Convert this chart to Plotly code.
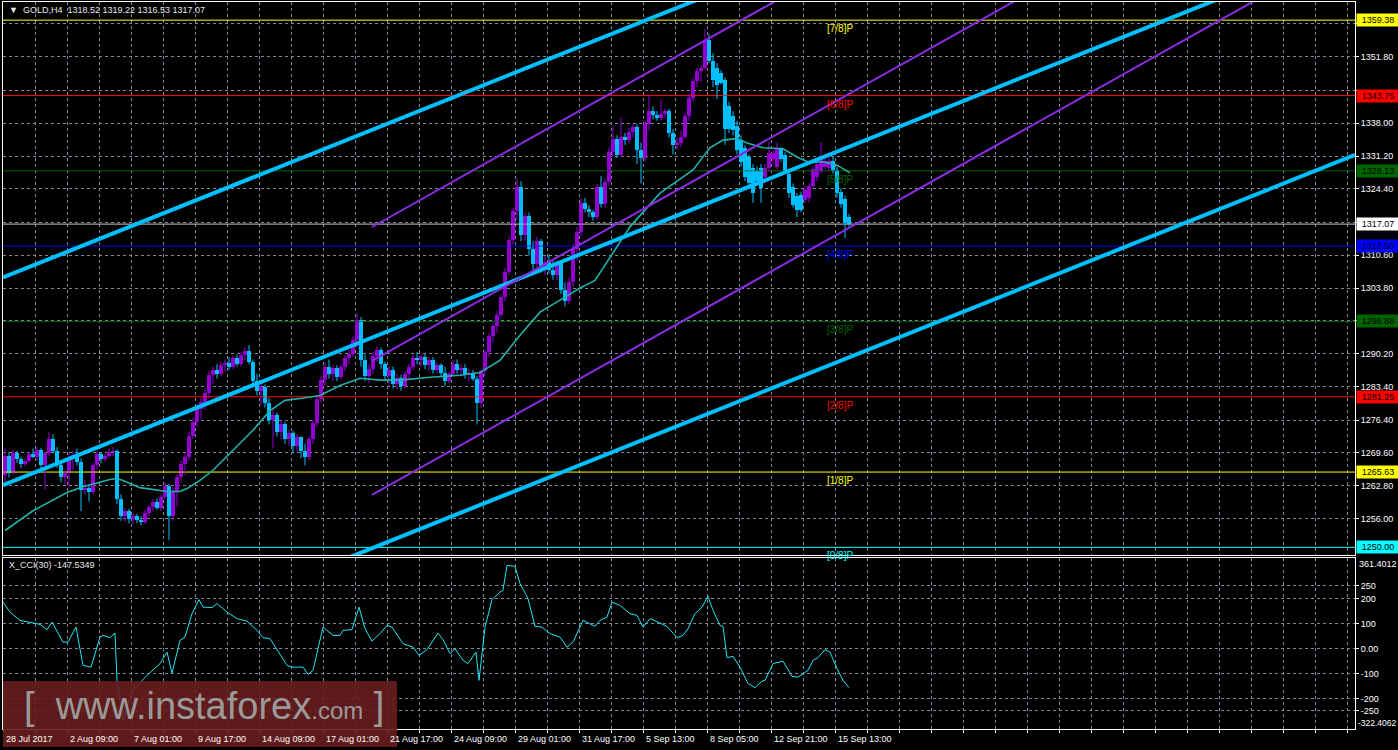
import plotly.graph_objects as go

# ---------------- DATA ----------------
opens = [1265.0, 1269.0, 1265.5, 1269.5, 1268.3, 1267.2, 1268.0, 1269.3, 1268.8, 1270.2,
         1267.0, 1269.5, 1272.5, 1270.0, 1267.0, 1264.5, 1265.5, 1268.8, 1269.2, 1267.8,
         1262.0, 1262.3, 1261.5, 1267.0, 1269.3, 1268.3, 1269.0, 1269.8, 1270.0, 1260.0,
         1256.5, 1257.5, 1255.8, 1256.5, 1255.6, 1255.2, 1257.2, 1258.3, 1259.5, 1258.2,
         1260.5, 1262.8, 1256.5, 1261.8, 1264.5, 1267.2, 1268.8, 1273.2, 1276.0, 1278.8,
         1280.2, 1282.0, 1285.8, 1286.8, 1286.0, 1287.8, 1288.2, 1287.5, 1289.2, 1288.0,
         1290.0, 1290.8, 1288.5, 1284.5, 1282.5, 1283.2, 1280.0, 1276.5, 1277.5, 1274.0,
         1275.5, 1272.5, 1273.8, 1271.0, 1272.8, 1270.0, 1268.8, 1272.5, 1275.8, 1280.8,
         1284.8, 1287.5, 1286.0, 1287.2, 1285.3, 1287.5, 1289.3, 1290.2, 1293.0, 1297.2,
         1288.8, 1285.5, 1287.0, 1289.8, 1291.0, 1288.0, 1285.5, 1286.8, 1284.0, 1285.2,
         1283.5, 1286.0, 1287.5, 1289.2, 1288.8, 1289.5, 1287.8, 1288.8, 1286.8, 1287.8,
         1286.2, 1284.5, 1286.0, 1288.0, 1286.8, 1287.2, 1285.8, 1286.2, 1285.0, 1280.0,
         1286.5, 1290.5, 1293.8, 1296.0, 1298.2, 1302.0, 1307.2, 1313.8, 1319.8, 1324.8,
         1314.8, 1318.8, 1312.0, 1308.8, 1313.5, 1308.2, 1309.2, 1307.5, 1306.5, 1309.0,
         1303.5, 1301.2, 1305.0, 1312.0, 1315.5, 1321.5, 1320.2, 1319.5, 1318.5, 1324.8,
         1321.2, 1325.8, 1332.0, 1334.8, 1331.5, 1335.2, 1334.5, 1336.2, 1337.2, 1332.5,
         1330.8, 1337.8, 1340.5, 1339.8, 1339.0, 1340.0, 1340.5, 1336.0, 1333.5, 1334.0,
         1335.2, 1339.5, 1343.2, 1346.8, 1348.8, 1349.5, 1355.2, 1351.0, 1349.5, 1348.5,
         1347.0, 1341.5, 1339.5, 1337.5, 1334.5, 1332.8, 1331.0, 1328.8, 1328.0, 1328.8,
         1326.8, 1328.8, 1330.5, 1329.0, 1332.6, 1331.5, 1327.5, 1324.8, 1322.8, 1323.2,
         1322.1, 1322.5, 1325.0, 1326.8, 1328.0, 1329.0, 1328.8, 1330.2, 1328.2, 1323.8,
         1322.3, 1318.52]
highs = [1270.5, 1269.8, 1270.2, 1270.0, 1268.8, 1268.5, 1269.8, 1270.5, 1270.8, 1270.6,
         1269.8, 1274.0, 1273.5, 1270.8, 1268.0, 1266.0, 1269.5, 1270.0, 1270.5, 1268.5,
         1264.0, 1263.0, 1267.5, 1270.0, 1269.8, 1269.5, 1270.5, 1270.8, 1270.4, 1261.0,
         1258.2, 1258.0, 1257.0, 1257.0, 1256.5, 1257.8, 1258.8, 1260.0, 1260.2, 1261.0,
         1263.5, 1263.2, 1262.5, 1265.2, 1268.0, 1269.5, 1274.0, 1277.0, 1279.8, 1281.0,
         1283.0, 1286.5, 1287.5, 1288.0, 1288.5, 1289.0, 1289.5, 1289.8, 1290.0, 1290.5,
         1291.5, 1292.0, 1289.0, 1286.0, 1284.0, 1283.8, 1281.0, 1278.8, 1278.0, 1276.5,
         1276.0, 1274.5, 1274.2, 1273.5, 1273.0, 1271.5, 1273.0, 1276.5, 1281.5, 1285.5,
         1288.5, 1289.0, 1287.8, 1287.8, 1288.0, 1290.0, 1291.0, 1293.8, 1298.5, 1297.8,
         1290.0, 1288.0, 1290.5, 1291.8, 1291.5, 1288.5, 1287.5, 1287.5, 1286.0, 1285.8,
         1286.5, 1288.0, 1290.0, 1290.5, 1290.0, 1290.2, 1289.5, 1289.5, 1288.5, 1288.2,
         1287.5, 1286.5, 1288.8, 1289.0, 1288.0, 1288.0, 1287.0, 1286.8, 1285.5, 1287.0,
         1291.0, 1294.5, 1296.5, 1299.0, 1302.5, 1308.0, 1314.5, 1320.5, 1326.5, 1326.0,
         1319.5, 1319.5, 1313.5, 1314.5, 1314.0, 1310.5, 1310.8, 1309.5, 1309.5, 1309.5,
         1305.0, 1306.0, 1313.0, 1316.5, 1322.5, 1322.5, 1321.0, 1320.0, 1325.5, 1327.0,
         1326.5, 1333.0, 1337.5, 1335.5, 1339.2, 1336.0, 1337.0, 1337.8, 1337.8, 1334.0,
         1338.5, 1344.0, 1341.5, 1340.5, 1343.0, 1341.0, 1341.0, 1336.8, 1335.0, 1336.5,
         1340.0, 1344.0, 1347.5, 1349.5, 1350.0, 1357.5, 1356.5, 1352.5, 1350.5, 1349.0,
         1347.5, 1342.5, 1340.5, 1338.5, 1335.5, 1333.5, 1331.5, 1329.5, 1329.0, 1329.5,
         1329.5, 1334.2, 1332.5, 1334.0, 1333.0, 1332.0, 1328.0, 1325.5, 1323.5, 1323.8,
         1325.0, 1325.5, 1329.0, 1330.5, 1334.0, 1331.0, 1331.0, 1331.0, 1329.0, 1324.5,
         1323.0, 1319.22]
lows = [1263.5, 1264.5, 1265.0, 1267.5, 1266.5, 1266.8, 1267.5, 1268.5, 1268.0, 1265.8,
        1262.0, 1269.0, 1269.5, 1266.5, 1263.5, 1263.0, 1262.5, 1266.0, 1267.0, 1257.5,
        1261.0, 1259.5, 1261.0, 1266.0, 1267.5, 1267.8, 1268.5, 1269.0, 1259.0, 1255.5,
        1255.2, 1255.0, 1254.8, 1255.0, 1254.6, 1254.8, 1256.5, 1257.5, 1257.8, 1257.5,
        1260.0, 1251.5, 1255.5, 1258.5, 1263.5, 1265.0, 1268.0, 1272.5, 1275.0, 1276.5,
        1278.5, 1281.0, 1284.0, 1285.0, 1285.5, 1286.5, 1286.8, 1287.0, 1287.5, 1287.5,
        1288.8, 1288.0, 1283.5, 1281.5, 1279.5, 1279.0, 1275.5, 1270.5, 1273.0, 1272.5,
        1271.5, 1271.0, 1269.5, 1270.0, 1268.5, 1267.0, 1268.0, 1271.5, 1275.0, 1280.0,
        1283.5, 1285.0, 1284.5, 1284.5, 1284.8, 1286.5, 1288.0, 1289.5, 1291.5, 1287.5,
        1284.5, 1284.0, 1286.0, 1288.5, 1287.0, 1284.5, 1283.5, 1283.0, 1282.8, 1282.5,
        1283.0, 1285.0, 1286.8, 1288.0, 1287.5, 1287.0, 1286.5, 1286.0, 1286.0, 1285.5,
        1283.5, 1284.0, 1285.5, 1286.0, 1285.5, 1285.0, 1284.5, 1284.5, 1275.5, 1279.0,
        1285.5, 1289.5, 1292.5, 1294.5, 1297.5, 1301.0, 1306.5, 1312.8, 1318.0, 1313.5,
        1313.5, 1310.5, 1307.5, 1308.0, 1307.0, 1306.5, 1306.8, 1305.5, 1305.5, 1302.5,
        1300.0, 1300.5, 1304.0, 1309.5, 1314.5, 1319.5, 1318.5, 1317.8, 1318.0, 1320.5,
        1320.5, 1325.0, 1331.0, 1330.8, 1331.0, 1333.5, 1333.8, 1335.0, 1329.5, 1325.5,
        1330.0, 1336.5, 1338.8, 1338.5, 1338.5, 1339.0, 1335.0, 1331.5, 1332.5, 1333.0,
        1334.8, 1338.5, 1342.5, 1345.5, 1346.5, 1349.0, 1350.5, 1345.5, 1343.0, 1346.0,
        1333.5, 1336.0, 1335.5, 1331.5, 1329.0, 1326.0, 1324.5, 1321.5, 1325.5, 1321.5,
        1325.5, 1328.0, 1329.5, 1328.5, 1330.0, 1327.5, 1322.5, 1320.5, 1318.5, 1319.5,
        1321.5, 1321.5, 1324.5, 1326.0, 1327.5, 1328.5, 1328.0, 1327.5, 1322.5, 1320.5,
        1314.2, 1316.53]
closes = [1269.0, 1265.5, 1269.5, 1268.3, 1267.2, 1268.0, 1269.3, 1268.8, 1270.2, 1267.0,
          1269.5, 1272.5, 1270.0, 1267.0, 1264.5, 1265.5, 1268.8, 1269.2, 1267.8, 1262.0,
          1262.3, 1261.5, 1267.0, 1269.3, 1268.3, 1269.0, 1269.8, 1270.0, 1260.0, 1256.5,
          1257.5, 1255.8, 1256.5, 1255.6, 1255.2, 1257.2, 1258.3, 1259.5, 1258.2, 1260.5,
          1262.8, 1256.5, 1261.8, 1264.5, 1267.2, 1268.8, 1273.2, 1276.0, 1278.8, 1280.2,
          1282.0, 1285.8, 1286.8, 1286.0, 1287.8, 1288.2, 1287.5, 1289.2, 1288.0, 1290.0,
          1290.8, 1288.5, 1284.5, 1282.5, 1283.2, 1280.0, 1276.5, 1277.5, 1274.0, 1275.5,
          1272.5, 1273.8, 1271.0, 1272.8, 1270.0, 1268.8, 1272.5, 1275.8, 1280.8, 1284.8,
          1287.5, 1286.0, 1287.2, 1285.3, 1287.5, 1289.3, 1290.2, 1293.0, 1297.2, 1288.8,
          1285.5, 1287.0, 1289.8, 1291.0, 1288.0, 1285.5, 1286.8, 1284.0, 1285.2, 1283.5,
          1286.0, 1287.5, 1289.2, 1288.8, 1289.5, 1287.8, 1288.8, 1286.8, 1287.8, 1286.2,
          1284.5, 1286.0, 1288.0, 1286.8, 1287.2, 1285.8, 1286.2, 1285.0, 1280.0, 1286.5,
          1290.5, 1293.8, 1296.0, 1298.2, 1302.0, 1307.2, 1313.8, 1319.8, 1324.8, 1314.8,
          1318.8, 1312.0, 1308.8, 1313.5, 1308.2, 1309.2, 1307.5, 1306.5, 1309.0, 1303.5,
          1301.2, 1305.0, 1312.0, 1315.5, 1321.5, 1320.2, 1319.5, 1318.5, 1324.8, 1321.2,
          1325.8, 1332.0, 1334.8, 1331.5, 1335.2, 1334.5, 1336.2, 1337.2, 1332.5, 1330.8,
          1337.8, 1340.5, 1339.8, 1339.0, 1340.0, 1340.5, 1336.0, 1333.5, 1334.0, 1335.2,
          1339.5, 1343.2, 1346.8, 1348.8, 1349.5, 1355.2, 1351.0, 1347.0, 1346.0, 1346.3,
          1336.8, 1336.8, 1336.5, 1332.5, 1330.0, 1326.8, 1325.5, 1323.5, 1326.0, 1324.5,
          1328.8, 1331.8, 1331.8, 1332.6, 1330.5, 1328.0, 1323.5, 1321.0, 1320.0, 1320.0,
          1324.1, 1325.0, 1328.5, 1329.5, 1330.5, 1330.2, 1330.2, 1328.2, 1323.5, 1321.2,
          1317.3, 1317.07]

# moving average (read at vertices, bar index / price)
ma_idx = [0, 7, 15.5, 19.5, 26.25, 28, 29.5, 33.75, 40.5, 43.75, 45.5, 48.75, 52, 57, 62,
          66.25, 70, 73.75, 78.75, 83.75, 88.75, 93.75, 98.75, 106.25, 113.75, 118.75,
          123.75, 128.75, 133.75, 138.75, 143.75, 147.5, 156.25, 163.75, 172, 176.25,
          179.5, 183, 185.5, 189.5, 194.5, 198, 201.25, 204.5, 208, 211.25]
ma_val = [1253.5, 1257.6, 1261.4, 1262.6, 1264.1, 1264.3, 1263.9, 1262.4, 1261.6, 1261.6,
          1262.2, 1263.9, 1266.0, 1270.1, 1274.3, 1278.4, 1280.5, 1280.9, 1281.5, 1283.6,
          1285.1, 1284.7, 1284.7, 1285.3, 1285.7, 1286.3, 1288.8, 1294.0, 1298.8, 1301.3,
          1303.8, 1305.4, 1316.5, 1323.5, 1328.3, 1332.9, 1334.5, 1334.8, 1333.9, 1332.9,
          1332.7, 1331.0, 1329.8, 1330.0, 1329.3, 1327.7]

# CCI(30) vertices (bar index / value)
cci_idx = [-0.5, 1.25, 3.75, 6.25, 8.75, 10.5, 11.75, 14.5, 15.75, 17.75, 19.5, 21.5, 23.75,
           24.5, 26.25, 27.5, 28, 28.75, 29.5, 30.5, 32, 35.5, 37, 38.75, 40.5, 41.75, 43.75,
           45, 46.75, 48.5, 49.5, 51.75, 53, 55.5, 58, 60.5, 63, 64.5, 66.25, 68.75, 70.5,
           72, 74.5, 75.75, 77, 79.5, 82, 83.75, 84.5, 86.75, 88.5, 90, 91.75, 93.75, 95.5,
           96.75, 99.5, 102, 103.5, 105.5, 107, 108.25, 109.5, 111.25, 112.5, 114.5, 115.75,
           117.75, 118.5, 119.25, 120, 121.75, 123.75, 124.5, 125.5, 127.5, 128.75, 130.75,
           132.5, 134.25, 136.25, 138.75, 140.5, 142, 144.5, 147.5, 148.75, 150.5, 151.75,
           153.75, 156.25, 158, 159.5, 161.25, 163.25, 165.5, 168, 169.5, 170.75, 172.5,
           174.25, 175.75, 177, 178.75, 179.5, 180.5, 182, 183.75, 185.75, 187.5, 189.25,
           190, 192, 193.25, 194.5, 196.75, 198.25, 200.75, 202, 203.25, 205, 206.25, 208,
           209.5, 211]
cci_val = [185, 145, 112, 105, 96, 75, 105, 25, 25, 85, -68, -75, 45, 52, 43, 61, -128, -208,
           -291, -235, -168, -108, -88, -61, -15, -99, 32, 45, 139, 195, 165, 163, 179, 145,
           119, 109, 72, 43, 39, -24, -68, -75, -75, -104, -88, 85, 52, 52, 72, 75, 165, 79,
           29, 59, 92, 85, 19, 5, -28, -5, 29, 61, 35, -21, -1, -48, -61, -15, -128, -21, 85,
           195, 225, 232, 332, 328, 259, 199, 88, 85, 59, 45, 5, 25, 112, 88, 112, 125, 185,
           172, 139, 132, 85, 119, 103, 88, 43, 52, 79, 139, 165, 208, 152, 92, 88, -37, -32,
           -75, -141, -157, -131, -128, -61, -55, -51, -112, -115, -88, -48, -37, -5, -15,
           -81, -128, -157, -147.5349]

# Murrey math levels
murrey_levels = [1250.00, 1265.63, 1281.25, 1296.88, 1312.50, 1328.13, 1343.75, 1359.38]
murrey_names = ['[0/8]P', '[1/8]P', '[2/8]P', '[3/8]P', '[4/8]P', '[5/8]P', '[6/8]P', '[7/8]P']
murrey_colors = ['#00FFFF', '#FFFF00', '#FF0000', '#006400', '#0000FF', '#006400', '#FF0000', '#FFFF00']
bid_price = 1317.07

# trend channels: anchor bar, anchor prices, slope (price per bar)
blue_anchor = -0.5
blue_prices = [1306.0, 1262.9, 1219.2]
blue_slope = 0.332
purple_anchor = 91.75
purple_prices = [1316.47, 1288.67, 1260.87]
purple_slope = 0.4647

# axis ticks (labels hidden behind the coloured price boxes are left blank)
price_ticks = [1256.0, 1262.8, 1269.6, 1276.4, 1283.4, 1290.2, 1297.0, 1303.8, 1310.6,
               1317.4, 1324.4, 1331.2, 1338.0, 1344.8, 1351.8, 1358.6]
price_ticktext = ['1256.00', '1262.80', '1269.60', '1276.40', '1283.40', '1290.20', '',
                  '1303.80', '1310.60', '', '1324.40', '1331.20', '1338.00', '', '1351.80', '']
cci_ticks = [250, 200, 100, 0, -100, -200, -250]
cci_ticktext = ['250', '200', '100', '0.00', '-100', '-200', '-250']
time_labels = ['28 Jul 2017', '2 Aug 09:00', '7 Aug 01:00', '9 Aug 17:00', '14 Aug 09:00',
               '17 Aug 01:00', '21 Aug 17:00', '24 Aug 09:00', '29 Aug 01:00', '31 Aug 17:00',
               '5 Sep 13:00', '8 Sep 05:00', '12 Sep 21:00', '15 Sep 13:00']
time_label_pos = [-0.5, 15.5, 31.5, 47.5, 63.5, 79.5, 95.5, 111.5, 127.5, 143.5, 159.5,
                  175.5, 191.5, 207.5]

# ---------------- STYLE ----------------
BULL = '#9400D3'
BEAR = '#00BFFF'
GRID = '#7d8a99'
FONT = 'Liberation Sans, Arial, DejaVu Sans, sans-serif'
X_MIN, X_MAX = -0.5, 337.5
Y_MIN, Y_MAX = 1248.42, 1363.15
C_MIN, C_MAX = -322.4062, 361.4012

fig = go.Figure()

# horizontal murrey lines (below everything else)
for lv, col in zip(murrey_levels, murrey_colors):
    fig.add_trace(go.Scatter(x=[X_MIN, X_MAX], y=[lv, lv], mode='lines',
                             line=dict(color=col, width=1), hoverinfo='skip'))
fig.add_trace(go.Scatter(x=[X_MIN, X_MAX], y=[bid_price, bid_price], mode='lines',
                         line=dict(color='#c8c8c8', width=1), hoverinfo='skip'))

# candles: bodies as bars, wicks as lines
n = min(len(opens), len(highs), len(lows), len(closes))
idx = list(range(n))
body_base = [min(opens[i], closes[i]) for i in idx]
body_h = [max(abs(closes[i] - opens[i]), 0.2) for i in idx]
body_col = [BULL if closes[i] >= opens[i] else BEAR for i in idx]

for col in (BULL, BEAR):
    wx, wy = [], []
    for i in idx:
        if body_col[i] == col:
            wx += [i, i, None]
            wy += [lows[i], highs[i], None]
    fig.add_trace(go.Scatter(x=wx, y=wy, mode='lines', line=dict(color=col, width=1),
                             hoverinfo='skip'))
fig.add_trace(go.Bar(x=idx, y=body_h, base=body_base, width=0.78,
                     marker=dict(color=body_col, line=dict(width=0)), hoverinfo='skip'))

# moving average
fig.add_trace(go.Scatter(x=ma_idx, y=ma_val, mode='lines',
                         line=dict(color='#20B2AA', width=1.6), hoverinfo='skip'))

# channels
for p in blue_prices:
    fig.add_trace(go.Scatter(x=[X_MIN, X_MAX],
                             y=[p + (X_MIN - blue_anchor) * blue_slope,
                                p + (X_MAX - blue_anchor) * blue_slope],
                             mode='lines', line=dict(color='#00BFFF', width=4),
                             hoverinfo='skip'))
for p in purple_prices:
    fig.add_trace(go.Scatter(x=[purple_anchor, X_MAX],
                             y=[p, p + (X_MAX - purple_anchor) * purple_slope],
                             mode='lines', line=dict(color='#8A2BE2', width=2),
                             hoverinfo='skip'))

# CCI
fig.add_trace(go.Scatter(x=cci_idx, y=cci_val, mode='lines', xaxis='x2', yaxis='y2',
                         line=dict(color='#1EE6F5', width=1), hoverinfo='skip'))

ann = []
# murrey labels
for lv, nm, col in zip(murrey_levels, murrey_names, murrey_colors):
    ann.append(dict(xref='x', yref='y', x=208.75, y=lv, text=nm, showarrow=False,
                    xanchor='center', yanchor='top', yshift=-1,
                    font=dict(color=col, size=10, family=FONT)))
# price boxes on right axis
box_vals = murrey_levels + [bid_price]
box_cols = murrey_colors + ['#FFFFFF']
for v, col in zip(box_vals, box_cols):
    ann.append(dict(xref='paper', yref='y', x=1, y=v, xanchor='left', yanchor='middle',
                    xshift=1, text='%.2f' % v, showarrow=False, bgcolor=col,
                    width=40, height=10, borderpad=1, align='center',
                    font=dict(color='black', size=9, family=FONT)))
# time labels
for t, pos in zip(time_labels, time_label_pos):
    ann.append(dict(xref='x2', yref='paper', x=pos, y=0, xanchor='left', yanchor='top',
                    xshift=1, yshift=-3, text=t, showarrow=False,
                    font=dict(color='white', size=9, family=FONT)))
# CCI extreme labels
PH = 727.0
def py(px):
    return (729 - px) / PH
ann.append(dict(xref='paper', yref='paper', x=1, y=py(564), xanchor='left', yanchor='middle',
                xshift=2, text='361.4012', showarrow=False,
                font=dict(color='white', size=9, family=FONT)))
ann.append(dict(xref='paper', yref='paper', x=1, y=py(723), xanchor='left', yanchor='middle',
                xshift=1, text='-322.4062', showarrow=False,
                font=dict(color='white', size=8.5, family=FONT)))
# titles
ann.append(dict(xref='paper', yref='paper', x=0, y=py(10), xanchor='left', yanchor='middle',
                xshift=4, text='▼&nbsp;&nbsp;GOLD,H4&nbsp;&nbsp;1318.52 1319.22 1316.53 1317.07',
                showarrow=False, font=dict(color='#e8e8e8', size=9, family=FONT)))
ann.append(dict(xref='paper', yref='paper', x=0, y=py(565), xanchor='left', yanchor='middle',
                xshift=4, text='X_CCI(30) -147.5349', showarrow=False,
                font=dict(color='#e8e8e8', size=9, family=FONT)))
# watermark text
ann.append(dict(xref='paper', yref='paper', x=(22 - 3) / 1352, y=py(706), xanchor='left',
                yanchor='middle', showarrow=False,
                text='[&nbsp;&nbsp;www.instaforex<span style="font-size:24px">.com</span>&nbsp;]',
                font=dict(color='#9a9a9a', size=38, family=FONT)))

shapes = [dict(type='rect', xref='paper', yref='paper', x0=0, x1=(397 - 3) / 1352,
               y0=py(747), y1=py(681), fillcolor='rgba(105,30,30,0.9)',
               line=dict(width=0), layer='above')]

axis_common = dict(showline=True, linecolor='white', linewidth=1, mirror=True,
                   zeroline=False, automargin=False, fixedrange=True,
                   gridcolor=GRID, gridwidth=1, griddash='3px,3px', showgrid=True)

fig.update_layout(
    template='none', width=1398, height=750,
    margin=dict(l=3, r=43, t=2, b=21, pad=0),
    paper_bgcolor='black', plot_bgcolor='black', showlegend=False,
    barmode='overlay', bargap=0,
    font=dict(family=FONT, size=9, color='white'),
    xaxis=dict(domain=[0, 1], anchor='y', range=[X_MIN, X_MAX], tickmode='linear',
               tick0=7.5, dtick=8, showticklabels=False, ticks='', **axis_common),
    yaxis=dict(domain=[(729 - 555) / PH, 1], anchor='x', side='right',
               range=[Y_MIN, Y_MAX], tickmode='array', tickvals=price_ticks,
               ticktext=price_ticktext, ticks='outside', ticklen=3,
               tickcolor='white', tickfont=dict(color='white', size=9, family=FONT),
               **axis_common),
    xaxis2=dict(domain=[0, 1], anchor='y2', range=[X_MIN, X_MAX], tickmode='linear',
                tick0=7.5, dtick=8, showticklabels=False, ticks='outside', ticklen=3,
                tickcolor='white', **axis_common),
    yaxis2=dict(domain=[0, (729 - 558) / PH], anchor='x2', side='right',
                range=[C_MIN, C_MAX], tickmode='array', tickvals=cci_ticks,
                ticktext=cci_ticktext, ticks='outside', ticklen=3, tickcolor='white',
                tickfont=dict(color='white', size=9, family=FONT), **axis_common),
    annotations=ann, shapes=shapes,
)

fig.write_html("out.html", config={'displayModeBar': False, 'staticPlot': True},
               post_script="document.body.style.margin='0px';document.body.style.overflow='hidden';")
